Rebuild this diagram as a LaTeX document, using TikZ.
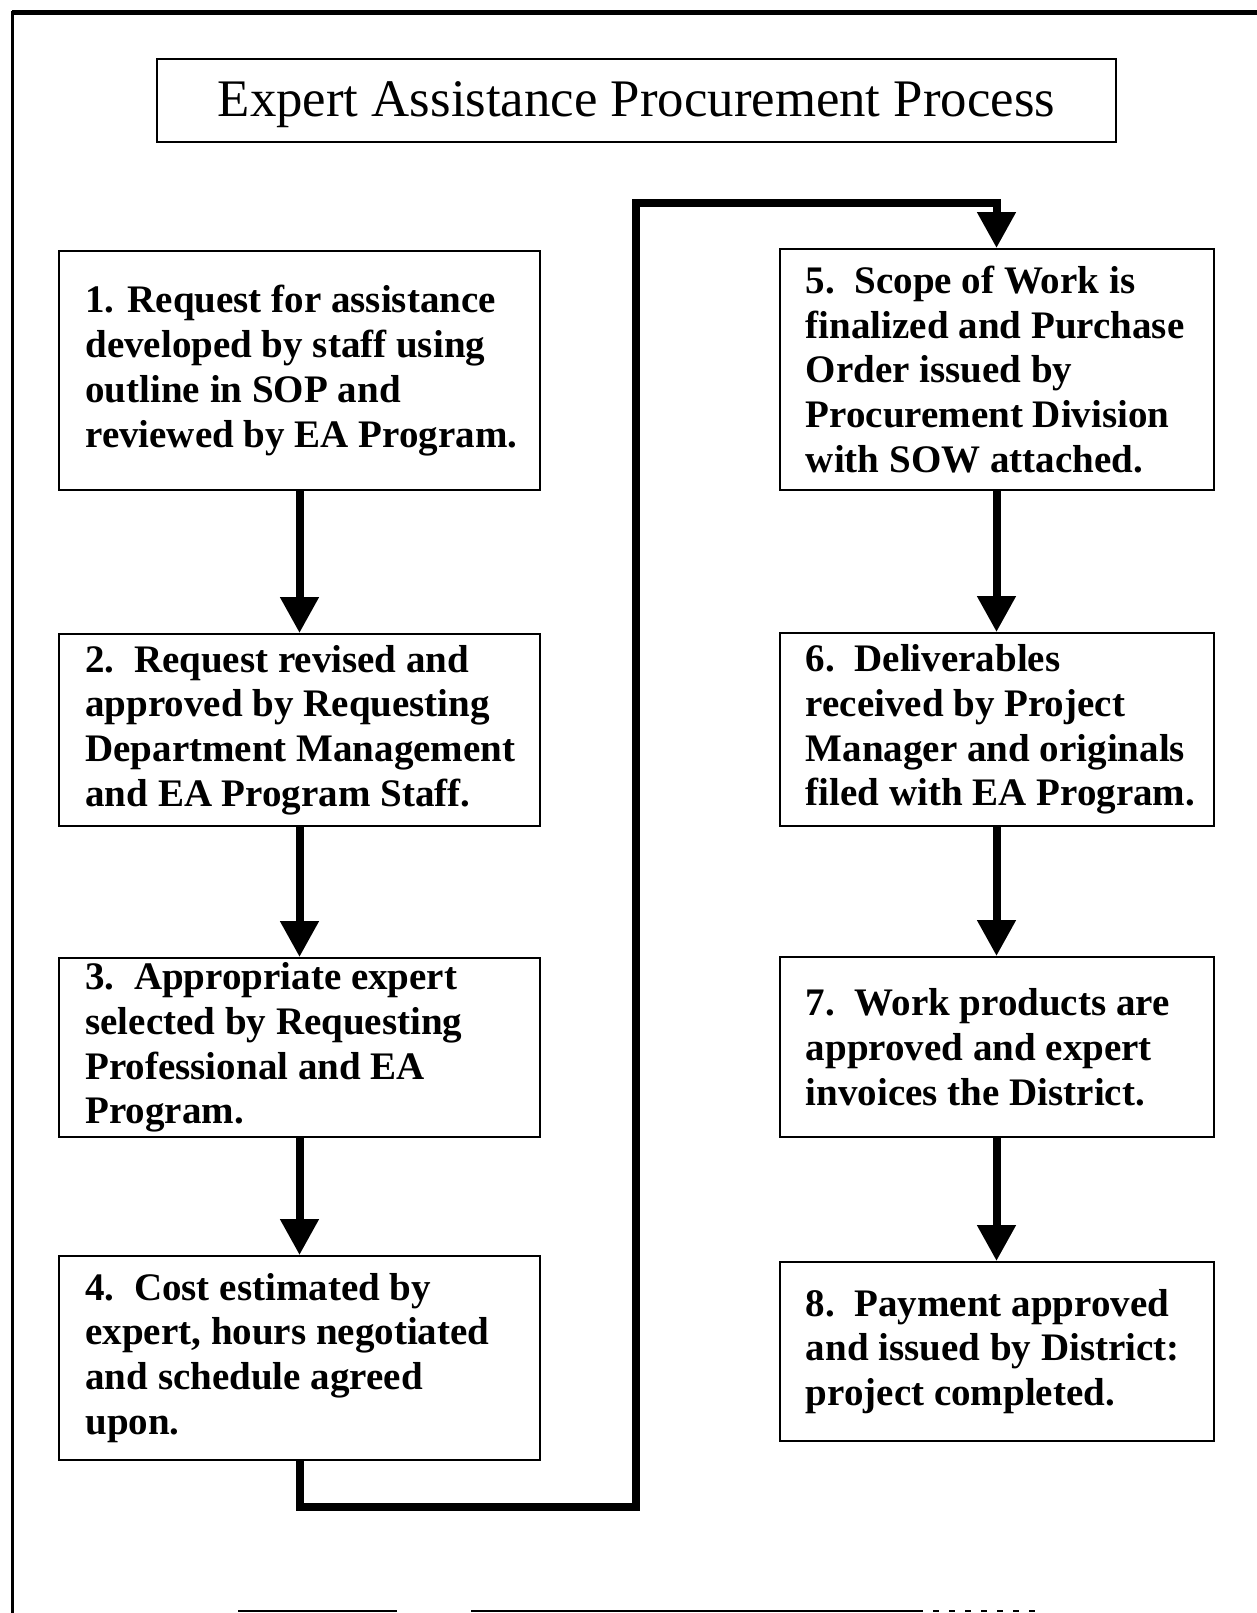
\documentclass[tikz,border=0pt]{standalone}
\usepackage{fontspec}
\setmainfont{Liberation Serif}
\usetikzlibrary{arrows.meta}
\begin{document}
\begin{tikzpicture}[x=0.5pt,y=-0.5pt,
  frameline/.style={line width=1.5pt,line cap=rect},
  stepbox/.style={draw,line width=1pt,inner sep=0pt},
  steptext/.style={anchor=west,inner sep=0pt,align=left,font=\bfseries\fontsize{19.5}{22.4}\selectfont},
  flow/.style={line width=4pt,line join=miter,-{Triangle[width=18.5pt,length=18pt]}},
  titlebox/.style={draw,line width=1.2pt,inner sep=0pt,minimum width=479.5pt,minimum height=41.5pt,text height=15.5pt,text depth=0pt,font=\fontsize{26.4}{30}\selectfont}]
\useasboundingbox (0,0) rectangle (1257,1613);
% outer frame
\draw[line width=2.5pt] (12,12) -- (1257,12);
\draw[frameline] (12,12) -- (12,1613);
\draw[line width=1pt] (238,1611) -- (397,1611);
\draw[line width=1pt] (471,1611) -- (917,1611);
\draw[line width=0.6pt,dash pattern=on 3pt off 5pt] (917,1611) -- (1041,1611);
% title
\node[titlebox] (title) at (636.5,100.5) {Expert Assistance Procurement Process};
% left column boxes
\node[stepbox,minimum width=240.5pt,minimum height=119.5pt] (b1) at (299.5,370.5) {};
\node[stepbox,minimum width=240.5pt,minimum height=96pt] (b2) at (299.5,730) {};
\node[stepbox,minimum width=240.5pt,minimum height=89.5pt] (b3) at (299.5,1047.5) {};
\node[stepbox,minimum width=240.5pt,minimum height=102pt] (b4) at (299.5,1358) {};
% right column boxes
\node[stepbox,minimum width=217pt,minimum height=120.5pt] (b5) at (996.5,369.5) {};
\node[stepbox,minimum width=217pt,minimum height=96.5pt] (b6) at (996.5,729.5) {};
\node[stepbox,minimum width=217pt,minimum height=90pt] (b7) at (996.5,1047) {};
\node[stepbox,minimum width=217pt,minimum height=89.5pt] (b8) at (996.5,1351.5) {};
% texts
\node[steptext] (t1) at ([xshift=13.5pt]b1.west) {1. Request for assistance\\developed by staff using\\outline in SOP and\\reviewed by EA Program.};
\node[steptext] (t2) at ([xshift=13.5pt]b2.west) {2.\ \ Request revised and\\approved by Requesting\\Department Management\\and EA Program Staff.};
\node[steptext] (t3) at ([xshift=13.5pt]b3.west) {3.\ \ Appropriate expert\\selected by Requesting\\Professional and EA\\Program.};
\node[steptext] (t4) at ([xshift=13.5pt]b4.west) {4.\ \ Cost estimated by\\expert, hours negotiated\\and schedule agreed\\upon.};
\node[steptext] (t5) at ([xshift=13.5pt]b5.west) {5.\ \ Scope of Work is\\finalized and Purchase\\Order issued by\\Procurement Division\\with SOW attached.};
\node[steptext] (t6) at ([xshift=13.5pt]b6.west) {6.\ \ Deliverables\\received by Project\\Manager and originals\\filed with EA Program.};
\node[steptext] (t7) at ([xshift=13.5pt]b7.west) {7.\ \ Work products are\\approved and expert\\invoices the District.};
\node[steptext] (t8) at ([xshift=13.5pt]b8.west) {8.\ \ Payment approved\\and issued by District:\\project completed.};
% arrows
\draw[flow] (b1.south) -- (b2.north);
\draw[flow] (b2.south) -- (b3.north);
\draw[flow] (b3.south) -- (b4.north);
\draw[flow] (b5.south) -- (b6.north);
\draw[flow] (b6.south) -- (b7.north);
\draw[flow] (b7.south) -- (b8.north);
\coordinate (c1) at (299.5,1507);
\coordinate (c2) at (636,1507);
\coordinate (c3) at (636,203);
\coordinate (c4) at (996.5,203);
\draw[flow] (b4.south) -- (c1) -- (c2) -- (c3) -- (c4) -- (b5.north);
\end{tikzpicture}
\end{document}
